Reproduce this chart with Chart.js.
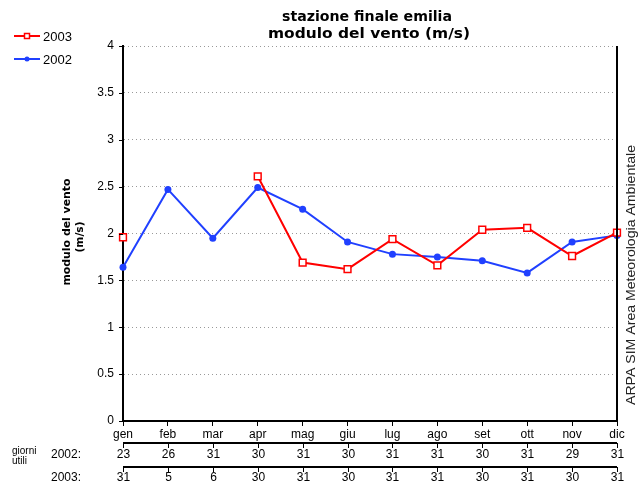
<!DOCTYPE html>
<html>
<head>
<meta charset="utf-8">
<script src="https://cdn.jsdelivr.net/npm/chart.js@4/dist/chart.umd.min.js"></script>
<style>
  html, body { margin: 0; padding: 0; background: #fff; }
  canvas { display: block; }
</style>
</head>
<body>
<canvas id="grafico" width="639" height="490"></canvas>
<script>
// dati
var mesi = ['gen', 'feb', 'mar', 'apr', 'mag', 'giu', 'lug', 'ago', 'set', 'ott', 'nov', 'dic'];
var vento2003 = [1.96, null, null, 2.61, 1.69, 1.62, 1.94, 1.66, 2.04, 2.06, 1.76, 2.01];
var vento2002 = [1.64, 2.47, 1.95, 2.49, 2.26, 1.91, 1.78, 1.75, 1.71, 1.58, 1.91, 1.98];
var giorni2002 = [23, 26, 31, 30, 31, 30, 31, 31, 30, 31, 29, 31];
var giorni2003 = [31, 5, 6, 30, 31, 30, 31, 31, 30, 31, 30, 31];
var yTicks = [0, 0.5, 1, 1.5, 2, 2.5, 3, 3.5, 4];

var font = '"Liberation Sans", Arial, sans-serif';

// scrive un testo stirato/compresso fino a una certa larghezza
var fitText = (ctx, text, x, y, width, rot) => {
  ctx.save();
  ctx.translate(x, y);
  if (rot) ctx.rotate(rot);
  var w = ctx.measureText(text).width;
  ctx.scale(width / w, 1);
  ctx.textAlign = 'center';
  ctx.textBaseline = 'middle';
  ctx.fillText(text, 0, 0);
  ctx.restore();
};

var decorazioni = {
  id: 'decorazioni',
  afterDraw: (chart) => {
    var ctx = chart.ctx;
    var area = chart.chartArea;
    var xs = chart.scales.x;
    var ys = chart.scales.y;
    ctx.save();
    ctx.fillStyle = '#000';
    ctx.strokeStyle = '#000';

    // bordo destro
    ctx.lineWidth = 2;
    ctx.beginPath();
    ctx.moveTo(area.right, area.top);
    ctx.lineTo(area.right, area.bottom);
    ctx.stroke();

    // tacche asse y
    ctx.lineWidth = 1;
    yTicks.forEach((v) => {
      var py = Math.round(ys.getPixelForValue(v)) + 0.5;
      ctx.beginPath();
      ctx.moveTo(area.left - 4, py);
      ctx.lineTo(area.left, py);
      ctx.stroke();
    });

    // titolo
    ctx.font = 'bold 14px "DejaVu Sans", sans-serif';
    fitText(ctx, 'stazione finale emilia', 367, 17, 170);
    fitText(ctx, 'modulo del vento (m/s)', 369, 34, 202);

    // titolo asse y
    ctx.font = 'bold 11px "DejaVu Sans", sans-serif';
    fitText(ctx, 'modulo del vento', 67, 232, 107, -Math.PI / 2);
    fitText(ctx, '(m/s)', 80, 237, 31, -Math.PI / 2);

    // scritta a destra
    ctx.fillStyle = '#222';
    ctx.font = '12px ' + font;
    fitText(ctx, 'ARPA SIM Area Meteorologia Ambientale', 632, 275, 260, -Math.PI / 2);
    ctx.fillStyle = '#000';

    // legenda
    var voci = [
      { label: '2003', color: '#ff0000', y: 36, quadrato: true },
      { label: '2002', color: '#2040ff', y: 59, quadrato: false }
    ];
    voci.forEach((v) => {
      ctx.strokeStyle = v.color;
      ctx.fillStyle = v.color;
      ctx.lineWidth = 2;
      ctx.beginPath();
      ctx.moveTo(14, v.y);
      ctx.lineTo(40, v.y);
      ctx.stroke();
      if (v.quadrato) {
        ctx.fillStyle = '#fff';
        ctx.lineWidth = 1.5;
        ctx.fillRect(24.5, v.y - 2.5, 5, 5);
        ctx.strokeRect(24.5, v.y - 2.5, 5, 5);
      } else {
        ctx.beginPath();
        ctx.arc(27, v.y, 2.5, 0, Math.PI * 2);
        ctx.fill();
      }
      ctx.fillStyle = '#000';
      ctx.font = '13px ' + font;
      ctx.textAlign = 'left';
      ctx.textBaseline = 'middle';
      ctx.fillText(v.label, 43, v.y + 1);
    });

    // righe giorni utili
    var righe = [
      { valori: giorni2002, linea: 443, testo: 455, nome: '2002:' },
      { valori: giorni2003, linea: 467, testo: 478, nome: '2003:' }
    ];
    righe.forEach((r) => {
      ctx.strokeStyle = '#000';
      ctx.lineWidth = 2;
      ctx.beginPath();
      ctx.moveTo(area.left, r.linea);
      ctx.lineTo(area.right, r.linea);
      ctx.stroke();
      ctx.lineWidth = 1;
      ctx.font = '12px ' + font;
      ctx.textAlign = 'center';
      ctx.textBaseline = 'middle';
      r.valori.forEach((g, i) => {
        var px = Math.round(xs.getPixelForValue(i)) + 0.5;
        ctx.beginPath();
        ctx.moveTo(px, r.linea);
        ctx.lineTo(px, r.linea + 5);
        ctx.stroke();
        ctx.fillText(String(g), px, r.testo);
      });
      ctx.textAlign = 'left';
      ctx.fillText(r.nome, 51, r.testo);
    });
    ctx.font = '10px ' + font;
    ctx.textAlign = 'left';
    ctx.fillText('giorni', 12, 451);
    ctx.fillText('utili', 12, 461);

    ctx.restore();
  }
};

var ctx = document.getElementById('grafico').getContext('2d');
var chart = new Chart(ctx, {
  type: 'line',
  data: {
    labels: mesi,
    datasets: [{
      label: '2003',
      data: vento2003,
      borderColor: '#ff0000',
      backgroundColor: '#ffffff',
      borderWidth: 2,
      pointStyle: 'rect',
      pointRadius: 4.8,
      pointBorderWidth: 1.5,
      pointBorderColor: '#ff0000',
      pointBackgroundColor: '#ffffff',
      spanGaps: false,
      tension: 0
    }, {
      label: '2002',
      data: vento2002,
      borderColor: '#2040ff',
      backgroundColor: '#2040ff',
      borderWidth: 2,
      pointStyle: 'circle',
      pointRadius: 3.5,
      pointBorderWidth: 0,
      pointBackgroundColor: '#2040ff',
      tension: 0
    }]
  },
  options: {
    responsive: false,
    animation: false,
    layout: { padding: { left: 0, top: 46, right: 22, bottom: 0 } },
    plugins: {
      legend: { display: false },
      title: { display: false },
      tooltip: { enabled: false }
    },
    scales: {
      x: {
        offset: false,
        afterFit: (scale) => { scale.height = 69; },
        grid: { display: true, drawOnChartArea: false, drawTicks: true, tickLength: 5, color: '#000' },
        border: { display: true, color: '#000', width: 2 },
        ticks: { color: '#000', font: { size: 12, family: font }, padding: 1, maxRotation: 0, autoSkip: false }
      },
      y: {
        min: 0,
        max: 4,
        afterFit: (scale) => { scale.width = 123; },
        afterBuildTicks: (scale) => { scale.ticks = yTicks.map((v) => ({ value: v })); },
        grid: { color: '#999', drawTicks: false, lineWidth: 1 },
        border: { display: true, color: '#000', width: 2, dash: [1, 3] },
        ticks: {
          color: '#000',
          font: { size: 12, family: font },
          padding: 9,
          callback: (v) => String(v)
        }
      }
    }
  },
  plugins: [decorazioni]
});
</script>
</body>
</html>
